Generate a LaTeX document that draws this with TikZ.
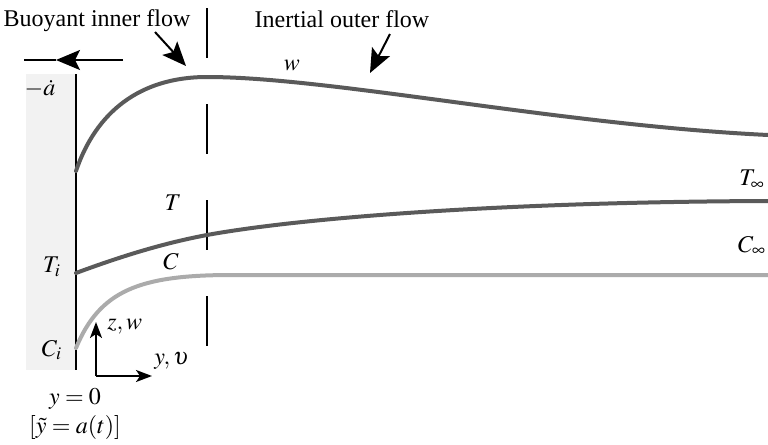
\documentclass[tikz,border=0pt]{standalone}
\usepackage{mathptmx}
\usepackage[no-math]{fontspec}
\setmainfont{Liberation Serif}
\usepackage{xcolor}
\usetikzlibrary{arrows.meta, positioning}
\definecolor{wallgray}{HTML}{F2F2F2}
\definecolor{darkcurve}{HTML}{5A5A5A}
\definecolor{lightcurve}{HTML}{ABABAB}

\begin{document}
\begin{tikzpicture}[
      x=0.5pt, y=-0.5pt,
      lbl/.style={inner sep=0pt, font=\rmfamily\fontsize{12}{14}\selectfont},
      curve/.style={line width=2pt, line cap=round},
      bigarr/.style={line width=1pt, -{Stealth[length=12pt, width=10pt, inset=2.5pt]}},
      axarr/.style={line width=1pt, -{Stealth[length=8pt, width=6pt, inset=2pt]}}
    ]
    \useasboundingbox (0,0) rectangle (768,445);
    \fill[wallgray] (26,74) rectangle (76,370);
    \coordinate (walltop) at (76,74);
    \coordinate (wallbot) at (76,370);
    \draw[line width=1pt] (walltop) -- (wallbot);
    \coordinate (dashtop) at (207,8);
    \coordinate (dashbot) at (207,370);
    \draw[line width=1pt, dash pattern=on 25 off 23] (dashtop) -- (dashbot);

    \draw[curve, darkcurve] (76,171) .. controls (96,112) and (140,77) .. (207,77)
      .. controls (330,77) and (560,125) .. (768,135);
    \draw[curve, darkcurve] (76,273) .. controls (130,253) and (170,242) .. (207,235)
      .. controls (300,218) and (500,202) .. (768,201);
    \draw[curve, lightcurve] (76,348) .. controls (100,290) and (140,275) .. (232,275)
      -- (768,275);

    \coordinate (vtail) at (123,60);
    \coordinate (vtip) at (56,60);
    \coordinate (vend) at (24,60);
    \draw[bigarr] (vtail) -- (vtip);
    \draw[line width=1pt] (vtip) -- (vend);
    \node[lbl] (adot) at (40,89) {$-\dot a$};

    \node[lbl] (inner) at (97,21) {Buoyant inner flow};
    \node[lbl] (outer) at (342,19) {Inertial outer flow};
    \coordinate (innertail) at (155,32);
    \coordinate (innertip) at (186,66);
    \coordinate (outertail) at (390,34);
    \coordinate (outertip) at (370,73);
    \draw[bigarr] (innertail) -- (innertip);
    \draw[bigarr] (outertail) -- (outertip);

    \node[lbl] (wlbl) at (292,65) {$w$};
    \node[lbl] (tlbl) at (173,203) {$T$};
    \node[lbl] (clbl) at (171,262) {$C$};
    \node[lbl] (tilbl) at (52,267) {$T_i$};
    \node[lbl] (cilbl) at (52,350) {$C_i$};
    \node[lbl] (tinf) at (752,180) {$T_\infty$};
    \node[lbl] (cinf) at (752,246) {$C_\infty$};

    \coordinate (orig) at (96,376);
    \coordinate (zend) at (96,322);
    \coordinate (yend) at (152,376);
    \draw[axarr] (orig) -- (zend);
    \draw[axarr] (orig) -- (yend);
    \node[lbl, anchor=west] (zw) at (107,327) {$z,w$};
    \node[lbl, anchor=west] (yv) at (154,361) {$y,\upsilon$};

    \node[lbl] (yzero) at (75,399) {$y=0$};
    \node[lbl] (ytilde) at (75,427) {$[\tilde y=a(t)]$};
  \end{tikzpicture}
\end{document}
